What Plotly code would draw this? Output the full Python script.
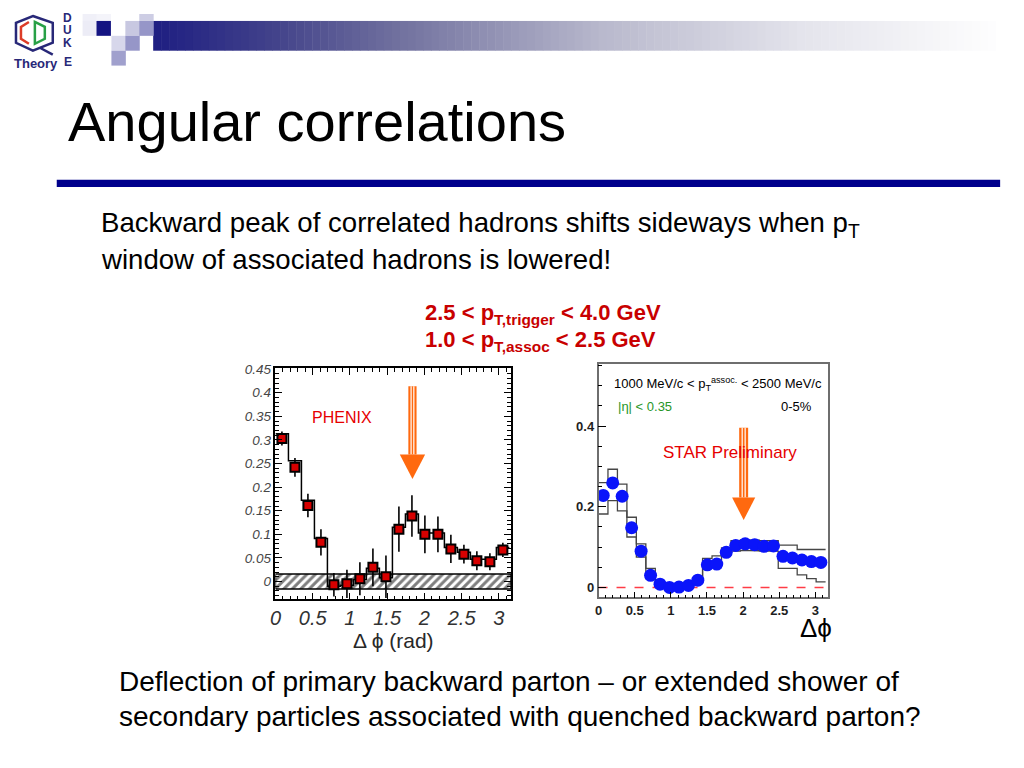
import plotly.graph_objects as go

# The page body keeps its default 8px margin, so the figure is made 8px smaller
# than the window and every position is given in window pixels minus that offset.
OFF = 8
W, H = 1024 - OFF, 768 - OFF
FONT = "Liberation Sans, Arial, sans-serif"

# ---------------- data ----------------
# PHENIX panel
phenix_x = [0.087, 0.262, 0.436, 0.611, 0.785, 0.960, 1.134, 1.309, 1.484,
            1.658, 1.833, 2.007, 2.182, 2.356, 2.531, 2.705, 2.880, 3.054]
phenix_y = [0.303, 0.242, 0.161, 0.083, -0.007, -0.005, 0.006, 0.030, 0.010,
            0.111, 0.139, 0.100, 0.100, 0.069, 0.058, 0.044, 0.042, 0.067]
phenix_err = [0.015, 0.020, 0.025, 0.028, 0.025, 0.030, 0.035, 0.040, 0.045,
              0.048, 0.044, 0.040, 0.038, 0.030, 0.020, 0.020, 0.018, 0.015]
phenix_hist = [0.313, 0.256, 0.172, 0.091, -0.010, -0.008, 0.004, 0.028, 0.008,
               0.115, 0.143, 0.103, 0.103, 0.072, 0.062, 0.047, 0.047, 0.072]
phenix_binw = 0.1745
phenix_band = 0.016
phenix_xticks = [0, 0.5, 1, 1.5, 2, 2.5, 3]
phenix_xticktext = ["0", "0.5", "1", "1.5", "2", "2.5", "3"]
phenix_yticks = [0, 0.05, 0.1, 0.15, 0.2, 0.25, 0.3, 0.35, 0.4, 0.45]
phenix_yticktext = ["0", "0.05", "0.1", "0.15", "0.2", "0.25", "0.3", "0.35", "0.4", "0.45"]

# STAR panel
star_x = [0.065, 0.196, 0.327, 0.458, 0.589, 0.720, 0.851, 0.982, 1.113, 1.244,
          1.374, 1.505, 1.636, 1.767, 1.898, 2.029, 2.160, 2.291, 2.421, 2.552,
          2.683, 2.814, 2.945, 3.076]
star_y = [0.228, 0.259, 0.226, 0.148, 0.090, 0.030, 0.008, 0.000, 0.001, 0.005,
          0.018, 0.056, 0.058, 0.087, 0.104, 0.108, 0.106, 0.102, 0.103, 0.077,
          0.073, 0.068, 0.064, 0.062]
star_upper = [0.260, 0.293, 0.256, 0.174, 0.108, 0.047, 0.012, 0.004, 0.004, 0.008,
              0.022, 0.072, 0.078, 0.098, 0.116, 0.118, 0.117, 0.116, 0.116, 0.105,
              0.105, 0.094, 0.094, 0.094]
star_lower = [0.182, 0.215, 0.190, 0.125, 0.075, 0.022, 0.004, -0.002, -0.002, 0.002,
              0.014, 0.052, 0.056, 0.080, 0.090, 0.092, 0.091, 0.090, 0.090, 0.047,
              0.047, 0.031, 0.022, 0.014]
star_binw = 0.1309
star_xticks = [0, 0.5, 1, 1.5, 2, 2.5, 3]
star_xticktext = ["0", "0.5", "1", "1.5", "2", "2.5", "3"]
star_yticks = [0, 0.2, 0.4]
star_yticktext = ["0", "0.2", "0.4"]

# texts
title_text = "Angular correlations"
bullet_lines = ["Backward peak of correlated hadrons shifts sideways when p<sub>T</sub>",
                "window of associated hadrons is lowered!"]
bottom_lines = ["Deflection of primary backward parton \u2013 or extended shower of",
                "secondary particles associated with quenched backward parton?"]
cut_lines = ["<b>2.5 < p<sub>T,trigger</sub> < 4.0 GeV</b>",
             "<b>1.0 < p<sub>T,assoc</sub> < 2.5 GeV</b>"]

# ---------------- helpers ----------------
def PX(x):
    return (x - OFF) / W


def PY(y):
    return 1 - (y - OFF) / H


def steps(centers, values, w):
    xs, ys = [], []
    for c, v in zip(centers, values):
        xs += [c - w / 2, c + w / 2]
        ys += [v, v]
    return xs, ys


fig = go.Figure()

# PHENIX axes geometry (window pixels)
P_L, P_R, P_T, P_B = 271, 508, 365, 598
P_XR = [0, 3.164]
P_YR = [-0.0378, 0.4521]
# STAR axes geometry
S_L, S_R, S_T, S_B = 596, 827, 361, 596
S_XR = [0, 3.177]
S_YR = [-0.0246, 0.5534]

# hatched band around zero (PHENIX)
fig.add_trace(go.Scatter(
    x=[P_XR[0], P_XR[1], P_XR[1], P_XR[0], P_XR[0]],
    y=[-phenix_band, -phenix_band, phenix_band, phenix_band, -phenix_band],
    mode="lines", fill="toself", fillcolor="white",
    fillpattern=dict(shape="/", fgcolor="black", bgcolor="white", size=6, solidity=0.5),
    line=dict(color="black", width=1.5), hoverinfo="skip", showlegend=False,
    xaxis="x", yaxis="y"))

hx, hy = steps(phenix_x, phenix_hist, phenix_binw)
fig.add_trace(go.Scatter(x=hx, y=hy, mode="lines", line=dict(color="black", width=1.5),
                         showlegend=False, xaxis="x", yaxis="y"))

fig.add_trace(go.Scatter(
    x=phenix_x, y=phenix_y, mode="markers",
    marker=dict(symbol="square", size=9, color="rgb(215,0,0)",
                line=dict(color="black", width=2)),
    error_y=dict(type="data", array=phenix_err, thickness=1.6, width=0, color="black"),
    showlegend=False, xaxis="x", yaxis="y"))

# STAR envelopes and points
ux, uy = steps(star_x, star_upper, star_binw)
lx, ly = steps(star_x, star_lower, star_binw)
fig.add_trace(go.Scatter(x=ux, y=uy, mode="lines", line=dict(color="rgb(70,70,70)", width=1.3),
                         showlegend=False, xaxis="x2", yaxis="y2"))
fig.add_trace(go.Scatter(x=lx, y=ly, mode="lines", line=dict(color="rgb(70,70,70)", width=1.3),
                         showlegend=False, xaxis="x2", yaxis="y2"))
fig.add_trace(go.Scatter(
    x=star_x, y=star_y, mode="markers",
    marker=dict(symbol="circle", size=13, color="rgb(10,20,250)", line=dict(width=0)),
    showlegend=False, xaxis="x2", yaxis="y2"))

shapes = []

# red dashed zero line in STAR
shapes.append(dict(type="line", xref="x2 domain", yref="y2", x0=0, x1=1, y0=0, y1=0,
                   line=dict(color="rgb(255,60,70)", width=1.5, dash="dash"), layer="below"))

ORANGE = "rgb(255,105,15)"


def arrow(xr, yr, xc, y_top, y_head, y_tip, shaft_hw, head_hw):
    out = []
    out.append(dict(type="rect", xref=xr, yref=yr, x0=xc - shaft_hw, x1=xc + shaft_hw,
                    y0=y_head, y1=y_top, fillcolor=ORANGE, line=dict(width=0)))
    for k in (-1, 1):
        xx = xc + k * shaft_hw / 3
        out.append(dict(type="line", xref=xr, yref=yr, x0=xx, x1=xx, y0=y_head, y1=y_top,
                        line=dict(color="white", width=1.2)))
    out.append(dict(type="path", xref=xr, yref=yr,
                    path=f"M {xc - head_hw},{y_head} L {xc + head_hw},{y_head} L {xc},{y_tip} Z",
                    fillcolor=ORANGE, line=dict(width=0)))
    return out


shapes += arrow("x", "y", 1.84, 0.414, 0.269, 0.217, 0.055, 0.17)
shapes += arrow("x2", "y2", 2.008, 0.396, 0.223, 0.167, 0.062, 0.16)

# --- slide decoration ---
NAVY = "rgb(0,0,140)"
shapes.append(dict(type="rect", xref="paper", yref="paper", x0=PX(51), x1=PX(1000),
                   y0=PY(182.5), y1=PY(175), fillcolor=NAVY, line=dict(width=0)))

# header gradient bar
stops = [(148, (30, 30, 130)), (280, (70, 70, 140)), (400, (115, 115, 160)),
         (600, (185, 185, 205)), (800, (228, 228, 236)), (1000, (255, 255, 255))]


def grad(xp):
    for (a, ca), (b, cb) in zip(stops[:-1], stops[1:]):
        if a <= xp <= b:
            t = (xp - a) / (b - a)
            return tuple(int(ca[i] + t * (cb[i] - ca[i])) for i in range(3))
    return stops[-1][1]


step = 8
xp = 148
while xp < 1000:
    c = grad(xp + step / 2)
    shapes.append(dict(type="rect", xref="paper", yref="paper", x0=PX(xp), x1=PX(xp + step + 0.5),
                       y0=PY(45), y1=PY(15), fillcolor=f"rgb{c}", line=dict(width=0),
                       layer="below"))
    xp += step

squares = [
    (77, 8, (240, 240, 248)), (91, 8, (244, 244, 250)), (77, 15, (236, 236, 246)),
    (91, 15, (20, 20, 130)), (120, 15, (200, 200, 225)), (134, 15, (150, 150, 200)),
    (134, 8, (205, 205, 228)), (106, 30, (215, 215, 235)), (120, 30, (150, 150, 200)),
    (106, 45, (160, 160, 205)),
]
for sx, sy, c in squares:
    top = sy
    bot = (sy if sy != 8 else 0) + 15
    shapes.append(dict(type="rect", xref="paper", yref="paper", x0=PX(sx), x1=PX(sx + 14.5),
                       y0=PY(bot), y1=PY(top), fillcolor=f"rgb{c}", line=dict(width=0)))

# logo
LOGO = "rgb(40,40,120)"


def ppath(points, close=True):
    s = "M " + " L ".join(f"{PX(a)},{PY(b)}" for a, b in points)
    return s + (" Z" if close else "")


shapes.append(dict(type="path", xref="paper", yref="paper",
                   path=ppath([(27, 10), (47, 17), (47, 37), (27, 45), (10, 37), (10, 17)]),
                   line=dict(color=LOGO, width=2.5)))
shapes.append(dict(type="path", xref="paper", yref="paper",
                   path=ppath([(34, 42), (47, 49)], close=False), line=dict(color=LOGO, width=2.5)))
shapes.append(dict(type="path", xref="paper", yref="paper",
                   path=ppath([(23, 16), (15, 21), (15, 33), (23, 38)], close=False),
                   line=dict(color="rgb(220,60,40)", width=2.5)))
shapes.append(dict(type="path", xref="paper", yref="paper",
                   path=ppath([(29, 16), (39, 21), (39, 33), (29, 38)]),
                   line=dict(color="rgb(40,160,70)", width=2.5)))

annotations = []


def text(t, x, y, size, color="black", xanchor="left", family=FONT, **kw):
    annotations.append(dict(text=t, x=PX(x), y=PY(y), xref="paper", yref="paper",
                            xanchor=xanchor, yanchor="middle", showarrow=False,
                            font=dict(family=family, size=size, color=color, **kw)))


text("<b>Theory</b>", 30, 58, 13, LOGO, xanchor="center")
for letter, yy in zip("DUKE", [12, 24, 37, 56]):
    text(f"<b>{letter}</b>", 62, yy, 12, LOGO, xanchor="center")

text(title_text, 60, 116, 56)
text(bullet_lines[0], 94, 220, 27.6)
text(bullet_lines[1], 94, 255, 27.6)
text(bottom_lines[0], 112, 681, 28)
text(bottom_lines[1], 112, 716, 28)
RED = "rgb(200,0,0)"
text(cut_lines[0], 419, 310, 22, RED)
text(cut_lines[1], 419, 338, 22, RED)

text("PHENIX", 338, 415, 16, "rgb(230,0,0)", xanchor="center")
text("STAR Preliminary", 728, 450, 17, "rgb(230,0,0)", xanchor="center")
text("1000 MeV/c < p<sub>T</sub><sup>assoc.</sup> < 2500 MeV/c", 716, 381, 13, "black",
     xanchor="center", family="Liberation Sans Narrow, Arial Narrow, sans-serif")
text("|\u03b7| < 0.35", 643, 404, 13, "rgb(40,150,40)", xanchor="center",
     family="Liberation Sans Narrow, Arial Narrow, sans-serif")
text("0-5%", 795, 404, 13, "black", xanchor="center",
     family="Liberation Sans Narrow, Arial Narrow, sans-serif")
text("\u0394\u03d5", 815, 627, 26, "black", xanchor="center")

axis_common = dict(showgrid=False, zeroline=False, showline=True, ticks="inside")

fig.update_layout(
    width=W, height=H, margin=dict(l=0, r=0, t=0, b=0),
    paper_bgcolor="white", plot_bgcolor="white", showlegend=False,
    font=dict(family=FONT),
    xaxis=dict(domain=[PX(P_L), PX(P_R)], range=P_XR, anchor="y",
               tickvals=phenix_xticks, ticktext=phenix_xticktext,
               linecolor="black", linewidth=1.5, mirror="ticks", ticklen=7, tickwidth=1.2,
               tickcolor="black",
               minor=dict(dtick=0.1, ticklen=4, tickcolor="black", ticks="inside"),
               tickfont=dict(size=20, color="rgb(50,50,50)", style="italic"),
               title=dict(text="\u0394 \u03d5 (rad)", font=dict(size=21, color="rgb(40,40,40)"),
                          standoff=2),
               **axis_common),
    yaxis=dict(domain=[PY(P_B), PY(P_T)], range=P_YR, anchor="x",
               tickvals=phenix_yticks, ticktext=phenix_yticktext,
               linecolor="black", linewidth=1.5, mirror="ticks", ticklen=7, tickwidth=1.2,
               tickcolor="black",
               minor=dict(dtick=0.01, ticklen=4, tickcolor="black", ticks="inside"),
               tickfont=dict(size=13.5, color="rgb(70,70,70)", style="italic"),
               **axis_common),
    xaxis2=dict(domain=[PX(S_L), PX(S_R)], range=S_XR, anchor="y2",
                tickvals=star_xticks, ticktext=star_xticktext,
                linecolor="rgb(110,110,110)", linewidth=1.5, mirror=True, ticklen=6,
                tickcolor="black",
                minor=dict(dtick=0.1, ticklen=3, tickcolor="black", ticks="inside"),
                tickfont=dict(size=13, color="rgb(30,30,30)", weight="bold"),
                **axis_common),
    yaxis2=dict(domain=[PY(S_B), PY(S_T)], range=S_YR, anchor="x2",
                tickvals=star_yticks, ticktext=star_yticktext,
                linecolor="rgb(110,110,110)", linewidth=1.5, mirror=True, ticklen=8,
                tickcolor="black",
                minor=dict(dtick=0.05, ticklen=4, tickcolor="black", ticks="inside"),
                tickfont=dict(size=13, color="rgb(30,30,30)", weight="bold"),
                **axis_common),
    shapes=shapes, annotations=annotations,
)

fig.write_html("out.html", config={"displayModeBar": False})
